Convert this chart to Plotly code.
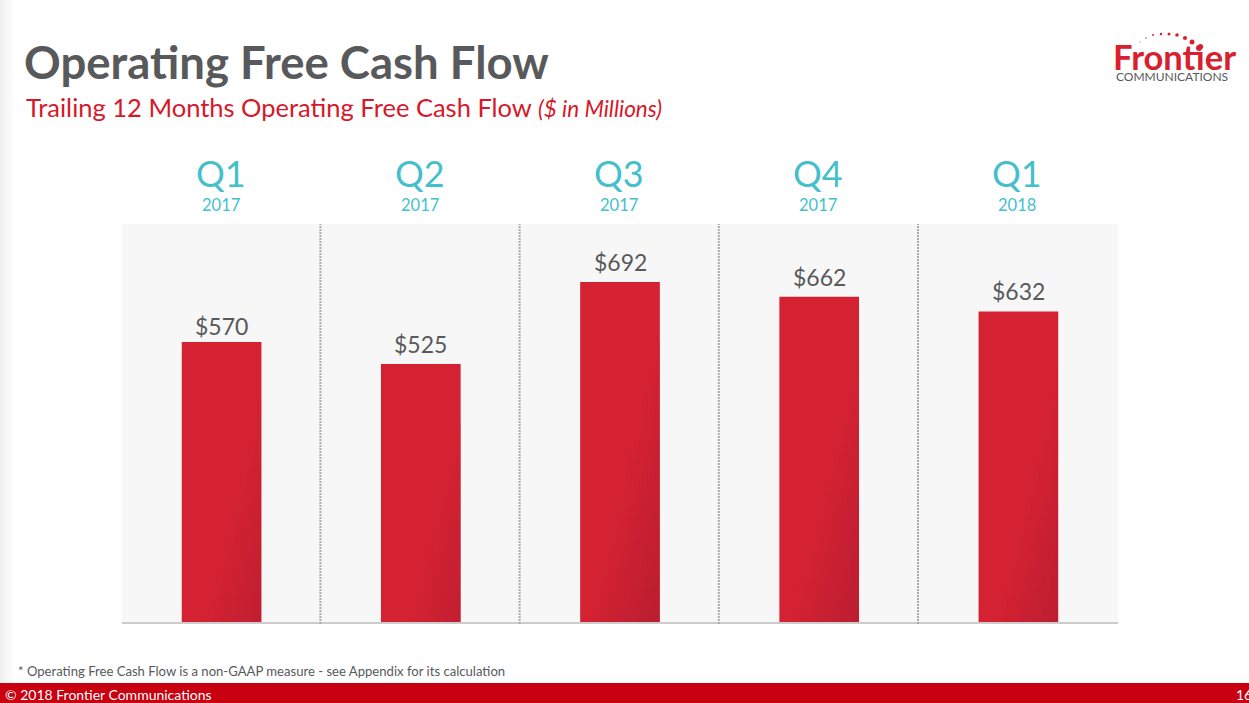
import plotly.graph_objects as go

quarters = ["Q1", "Q2", "Q3", "Q4", "Q1"]
years = ["2017", "2017", "2017", "2017", "2018"]
values = [570, 525, 692, 662, 632]
value_labels = ["$570", "$525", "$692", "$662", "$632"]

WIDTH, HEIGHT = 1249, 703
LEFT, RIGHT, TOP, BOTTOM = 122, 1118, 224, 622
GREY = "#58595B"
TEAL = "#45BFCC"
RED = "#D7182A"
FONT = "Lato"
BAR_WIDTH = 0.4
Y_MAX = 810
LABEL_GAPS = [16, 20, 20, 20, 20]


def px_x(x):
    return (x - LEFT) / (RIGHT - LEFT)


def px_y(y):
    return (BOTTOM - y) / (BOTTOM - TOP)


def text(x, y, s, size, color, anchor="left"):
    return dict(
        x=px_x(x), y=px_y(y), xref="paper", yref="paper", text=s, showarrow=False,
        xanchor=anchor, yanchor="middle", font=dict(family=FONT, size=size, color=color),
    )


def blend(t):
    start, end = (212, 34, 51), (184, 30, 48)
    t = max(0, min(1, t))
    rgb = [round(a + (b - a) * t) for a, b in zip(start, end)]
    return f"rgb({rgb[0]},{rgb[1]},{rgb[2]})"


positions = list(range(len(values)))
fig = go.Figure()

fig.add_trace(go.Bar(
    x=positions, y=values, width=BAR_WIDTH, marker=dict(color=blend(0), line_width=0), hoverinfo="skip",
))

# Diagonal shading towards the bottom right corner, cut into small cells of each bar
n_cols = 20
row_step = 20
unit_px = (BOTTOM - TOP) / Y_MAX
col_w = BAR_WIDTH / n_cols
bar_px = BAR_WIDTH * (RIGHT - LEFT) / len(values)
cell_x, cell_base, cell_h, cell_off, cell_w, cell_col = [], [], [], [], [], []
for pos, val in zip(positions, values):
    top = val
    while top > 0:
        h = min(row_step, top)
        depth_px = (val - top + h / 2) * unit_px
        for c in range(n_cols):
            t = (((c + 0.5) / n_cols) * bar_px + 0.25 * depth_px - 92) / 73
            if t > 0:
                cell_x.append(pos)
                cell_base.append(top - h)
                cell_h.append(h)
                cell_off.append(-BAR_WIDTH / 2 + c * col_w)
                # last column stays just inside the base bar so the edge keeps straight
                cell_w.append(col_w - 0.002 if c == n_cols - 1 else col_w)
                cell_col.append(blend(t))
        top -= h

fig.add_trace(go.Bar(
    x=cell_x, y=cell_h, base=cell_base, offset=cell_off, width=cell_w,
    marker=dict(color=cell_col, line_width=0), hoverinfo="skip",
))

annotations = [
    text(22, 62, "<b>Operating Free Cash Flow</b>", 45.5, GREY),
    text(24, 107, "Trailing 12 Months Operating Free Cash Flow <i style='font-size:22.5px'>($ in Millions)</i>", 25.5, RED),
    text(16, 671, "* Operating Free Cash Flow is a non-GAAP measure - see Appendix for its calculation", 13.1, GREY),
    text(3, 694, "© 2018 Frontier Communications", 14, "white"),
    text(1234, 694, "16", 14, "white"),
    text(1111, 57, "<b>Frontier</b>", 34.5, "#D9202F"),
    text(1114, 77, "COMMUNICATIONS", 12, GREY),
]
for pos, q, yr in zip(positions, quarters, years):
    cx = LEFT + (pos + 0.5) * (RIGHT - LEFT) / len(values)
    annotations.append(text(cx - 1, 173, q, 36, TEAL, "center"))
    annotations.append(text(cx - 1, 205.5, yr, 16.5, TEAL, "center"))
for pos, val, lab, gap in zip(positions, values, value_labels, LABEL_GAPS):
    annotations.append(dict(
        x=pos, y=val, xref="x", yref="y", text=lab, showarrow=False, yanchor="middle", yshift=gap,
        font=dict(family=FONT, size=23, color=GREY),
    ))

shapes = []
# Soft shadow on the left edge of the slide
for i in range(16):
    shade = 240 + i
    shapes.append(dict(
        type="rect", xref="paper", yref="paper", layer="below", line_width=0,
        x0=px_x(i), x1=px_x(i + 1), y0=px_y(0), y1=px_y(HEIGHT), fillcolor=f"rgb({shade},{shade},{shade})",
    ))
# Footer band
shapes.append(dict(
    type="rect", xref="paper", yref="paper", layer="below", line_width=0,
    x0=px_x(0), x1=px_x(WIDTH), y0=px_y(683), y1=px_y(HEIGHT), fillcolor="#C8000F",
))
# Dotted separators between the quarters
for pos in positions[:-1]:
    shapes.append(dict(
        type="line", xref="x", yref="paper", x0=pos + 0.496, x1=pos + 0.496, y0=px_y(624), y1=1,
        line=dict(color="#ABABAB", width=2, dash="2px,1px"),
    ))
# Logo dots
logo_dots = [(1140, 42, 0.5), (1146, 38, 0.7), (1153, 35, 1), (1161, 34, 1.2), (1169, 34, 1.5),
             (1177, 35, 1.8), (1185, 38, 2.1), (1192, 42, 2.5), (1199, 48, 3)]
for dx, dy, r in logo_dots:
    shapes.append(dict(
        type="circle", xref="paper", yref="paper", line_width=0, fillcolor="#D9202F",
        x0=px_x(dx - r), x1=px_x(dx + r), y0=px_y(dy - r), y1=px_y(dy + r),
    ))

fig.update_layout(
    width=WIDTH, height=HEIGHT, barmode="overlay", showlegend=False,
    paper_bgcolor="white", plot_bgcolor="#F7F7F7",
    margin=dict(l=LEFT, r=WIDTH - RIGHT, t=TOP, b=HEIGHT - BOTTOM, pad=0),
    annotations=annotations, shapes=shapes,
    xaxis=dict(range=[-0.5, 4.5], showticklabels=False, ticks="", showgrid=False, zeroline=False,
               showline=True, linecolor="#CCCCCC", linewidth=1.5, fixedrange=True),
    yaxis=dict(range=[0, Y_MAX], visible=False, showgrid=False, zeroline=False, fixedrange=True),
)

fig.write_html("out.html", post_script="document.body.style.margin='0';", config={"displayModeBar": False})
